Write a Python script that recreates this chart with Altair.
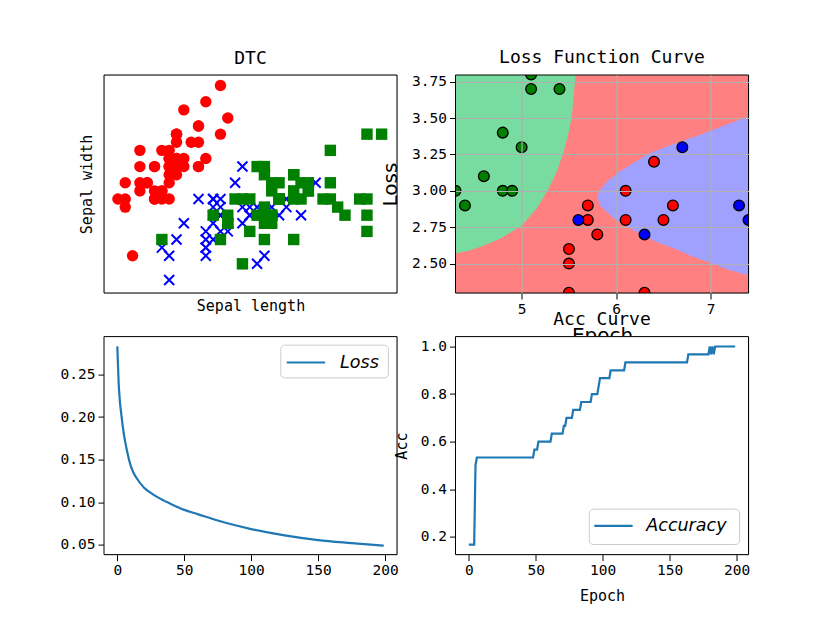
import altair as alt
import pandas as pd

MONO = "DejaVu Sans Mono"
SANS = "DejaVu Sans"
W, H = 293, 218

# ---------------- Panel 1: DTC (iris sepal length / width) ----------------
setosa_len = [5.1,4.9,4.7,4.6,5.0,5.4,4.6,5.0,4.4,4.9,5.4,4.8,4.8,4.3,5.8,5.7,5.4,5.1,5.7,5.1,
              5.4,5.1,4.6,5.1,4.8,5.0,5.0,5.2,5.2,4.7,4.8,5.4,5.2,5.5,4.9,5.0,5.5,4.9,4.4,5.1,
              5.0,4.5,4.4,5.0,5.1,4.8,5.1,4.6,5.3,5.0]
setosa_wid = [3.5,3.0,3.2,3.1,3.6,3.9,3.4,3.4,2.9,3.1,3.7,3.4,3.0,3.0,4.0,4.4,3.9,3.5,3.8,3.8,
              3.4,3.7,3.6,3.3,3.4,3.0,3.4,3.5,3.4,3.2,3.1,3.4,4.1,4.2,3.1,3.2,3.5,3.6,3.0,3.4,
              3.5,2.3,3.2,3.5,3.8,3.0,3.8,3.2,3.7,3.3]
versi_len = [7.0,6.4,6.9,5.5,6.5,5.7,6.3,4.9,6.6,5.2,5.0,5.9,6.0,6.1,5.6,6.7,5.6,5.8,6.2,5.6,
             5.9,6.1,6.3,6.1,6.4,6.6,6.8,6.7,6.0,5.7,5.5,5.5,5.8,6.0,5.4,6.0,6.7,6.3,5.6,5.5,
             5.5,6.1,5.8,5.0,5.6,5.7,5.7,6.2,5.1,5.7]
versi_wid = [3.2,3.2,3.1,2.3,2.8,2.8,3.3,2.4,2.9,2.7,2.0,3.0,2.2,2.9,2.9,3.1,3.0,2.7,2.2,2.5,
             3.2,2.8,2.5,2.8,2.9,3.0,2.8,3.0,2.9,2.6,2.4,2.4,2.7,2.7,3.0,3.4,3.1,2.3,3.0,2.5,
             2.6,3.0,2.6,2.3,2.7,3.0,2.9,2.9,2.5,2.8]
virg_len = [6.3,5.8,7.1,6.3,6.5,7.6,4.9,7.3,6.7,7.2,6.5,6.4,6.8,5.7,5.8,6.4,6.5,7.7,7.7,6.0,
            6.9,5.6,7.7,6.3,6.7,7.2,6.2,6.1,6.4,7.2,7.4,7.9,6.4,6.3,6.1,7.7,6.3,6.4,6.0,6.9,
            6.7,6.9,5.8,6.8,6.7,6.7,6.3,6.5,6.2,5.9]
virg_wid = [3.3,2.7,3.0,2.9,3.0,3.0,2.5,2.9,2.5,3.6,3.2,2.7,3.0,2.5,2.8,3.2,3.0,3.8,2.6,2.2,
            3.2,2.8,2.8,2.7,3.3,3.2,2.8,3.0,2.8,3.0,2.8,3.8,2.8,2.8,2.6,3.0,3.4,3.1,3.0,3.1,
            3.1,3.1,2.7,3.2,3.3,3.0,2.5,3.0,3.4,3.0]
TL_XDOM = [4.11, 8.11]
TL_YDOM = [1.84, 4.53]

# ---------------- Panel 2: decision regions + test points ----------------
TR_XDOM = [4.3, 7.4]
TR_YDOM = [2.298, 3.796]
green_bnd_y = [2.57, 2.59, 2.62, 2.67, 2.76, 2.88, 3.01, 3.13, 3.26, 3.38, 3.51, 3.65, 3.796]
green_bnd_x = [4.30, 4.45, 4.58, 4.77, 5.00, 5.16, 5.28, 5.37, 5.44, 5.49, 5.53, 5.55, 5.57]
blue_bnd_y = [2.42, 2.46, 2.51, 2.55, 2.60, 2.65, 2.71, 2.76, 2.81, 2.855, 2.90, 2.96,
              3.01, 3.06, 3.13, 3.19, 3.26, 3.32, 3.38, 3.45, 3.51]
blue_bnd_x = [7.40, 7.18, 6.98, 6.80, 6.63, 6.42, 6.24, 6.10, 5.98, 5.90, 5.83, 5.80,
              5.83, 5.90, 6.03, 6.18, 6.36, 6.60, 6.87, 7.15, 7.40]
pts_green_x = [5.1, 5.1, 5.4, 4.8, 5.0, 4.6, 4.3, 4.8, 4.9, 4.4]
pts_green_y = [3.8, 3.7, 3.7, 3.4, 3.3, 3.1, 3.0, 3.0, 3.0, 2.9]
pts_red_x = [5.7, 5.7, 5.8, 5.5, 5.5, 5.5, 6.4, 6.1, 6.6, 6.1, 6.5, 6.3]
pts_red_y = [2.9, 2.8, 2.7, 2.6, 2.5, 2.3, 3.2, 3.0, 2.9, 2.8, 2.8, 2.3]
pts_blue_x = [5.6, 6.7, 6.3, 7.3, 7.4]
pts_blue_y = [2.8, 3.3, 2.7, 2.9, 2.8]

# ---------------- Panel 3: loss curve ----------------
loss_epoch = [0, 1, 2, 3, 4, 5, 6, 8, 10, 12, 15, 20, 25, 30, 40, 50, 60, 75, 100, 125, 150, 175, 199]
loss_value = [0.283, 0.240, 0.217, 0.203, 0.190, 0.179, 0.170, 0.155, 0.143, 0.135, 0.127, 0.117,
              0.111, 0.106, 0.098, 0.091, 0.086, 0.0785, 0.0685, 0.061, 0.0555, 0.052, 0.049]

# ---------------- Panel 4: accuracy curve ----------------
acc_epoch = [0, 4, 5, 6, 48, 49, 51, 52, 61, 62, 70, 71, 72, 73, 77, 78, 83, 84, 91, 92, 96, 97,
             98, 105, 106, 116, 117, 163, 164, 179, 180, 181, 182, 183, 184, 199]
acc_value = [0.1667, 0.1667, 0.5, 0.5333, 0.5333, 0.5667, 0.5667, 0.6, 0.6, 0.6333, 0.6333,
             0.6667, 0.6667, 0.7, 0.7, 0.7333, 0.7333, 0.7667, 0.7667, 0.8, 0.8, 0.8333,
             0.8667, 0.8667, 0.9, 0.9, 0.9333, 0.9333, 0.9667, 0.9667, 1.0, 0.9667, 1.0,
             0.9667, 1.0, 1.0]
EPOCH_DOM = [-9.95, 208.95]
LOSS_DOM = [0.0385, 0.2945]
ACC_DOM = [0.125, 1.0417]

LINE_COLOR = "#1f77b4"


def ax(**kw):
    base = dict(domain=False, tickColor="black", tickSize=6, tickWidth=1, labelFont=MONO,
                labelFontSize=14.5, labelColor="black", labelPadding=3, grid=False,
                titleColor="black", titleFontWeight="normal", title="")
    base.update(kw)
    return alt.Axis(**base)


def title(text):
    return alt.TitleParams(text, font=MONO, fontSize=18, fontWeight="normal", color="black",
                           offset=-7, baseline="alphabetic", frame="group", anchor="middle")


one = pd.DataFrame({"k": [0]})


def frame():
    return alt.Chart(one).mark_rect(fillOpacity=0, stroke="black", strokeWidth=1).encode(
        x=alt.value(0), x2=alt.value(W), y=alt.value(0), y2=alt.value(H))


def panel_bg():
    return alt.Chart(one).mark_rect(fill="white", opacity=1).encode(
        x=alt.value(0), x2=alt.value(W), y=alt.value(0), y2=alt.value(H))


def legend(x0, x1, y0, y1, lx0, lx1, ly, tx, label):
    box = alt.Chart(one).mark_rect(fill="white", fillOpacity=0.8, stroke="#cccccc",
                                   strokeWidth=1, cornerRadius=4).encode(
        x=alt.value(x0), x2=alt.value(x1), y=alt.value(y0), y2=alt.value(y1))
    ln = alt.Chart(one).mark_rule(color=LINE_COLOR, strokeWidth=2.2).encode(
        x=alt.value(lx0), x2=alt.value(lx1), y=alt.value(ly))
    tx_ = alt.Chart(one).mark_text(text=label, font=SANS, fontStyle="italic", fontSize=17.5,
                                   align="left", baseline="middle", color="black").encode(
        x=alt.value(tx), y=alt.value(ly + 0.5))
    return [box, ln, tx_]


# ----- top-left -----
tl_x = alt.X("x:Q", scale=alt.Scale(domain=TL_XDOM, nice=False, zero=False),
             axis=ax(labels=False, ticks=False, title="Sepal length", titleFont=MONO,
                     titleFontSize=15, titleX=W / 2, titleY=17, titleBaseline="alphabetic",
                     titleAlign="center"))
tl_y = alt.Y("y:Q", scale=alt.Scale(domain=TL_YDOM, nice=False, zero=False),
             axis=ax(labels=False, ticks=False, title="Sepal width", titleFont=MONO,
                     titleFontSize=15, titleAngle=270, titleX=-13, titleY=H / 2,
                     titleBaseline="alphabetic", titleAlign="center"))
df_set = pd.DataFrame({"x": setosa_len, "y": setosa_wid})
df_ver = pd.DataFrame({"x": versi_len, "y": versi_wid})
df_vir = pd.DataFrame({"x": virg_len, "y": virg_wid})
circles = alt.Chart(df_set).mark_circle(size=130, color="#ff0000", opacity=1).encode(x=tl_x, y=tl_y)
crosses = alt.Chart(df_ver).mark_point(shape="M-1,-1L1,1M1,-1L-1,1", size=100, filled=False,
                                       color="#0000ff", strokeWidth=2, opacity=1).encode(x=tl_x, y=tl_y)
squares = alt.Chart(df_vir).mark_square(size=130, color="#008000", opacity=1).encode(x=tl_x, y=tl_y)
tl = alt.layer(circles, crosses, squares, frame()).properties(width=W, height=H, title=title("DTC"))

# ----- top-right -----
grid_kw = dict(grid=True, gridColor="#b0b0b0", gridWidth=1.2, zindex=1)
tr_x = alt.X("x:Q", scale=alt.Scale(domain=TR_XDOM, nice=False, zero=False),
             axis=ax(values=[5, 6, 7], format="d", title="Epoch", titleFont=SANS, titleFontSize=20,
                     titleX=W / 2, titleY=48, titleBaseline="alphabetic", titleAlign="center",
                     **grid_kw))
tr_y = alt.Y("y:Q", scale=alt.Scale(domain=TR_YDOM, nice=False, zero=False),
             axis=ax(values=[2.5, 2.75, 3.0, 3.25, 3.5, 3.75], format=".2f", title="Loss",
                     titleFont=SANS, titleFontSize=20, titleAngle=270, titleX=-65, titleY=H / 2,
                     titleBaseline="middle", titleAlign="center", **grid_kw))
df_bg = pd.DataFrame({"x": [TR_XDOM[0]], "x2": [TR_XDOM[1]], "y": [TR_YDOM[0]], "y2": [TR_YDOM[1]]})
bg = alt.Chart(df_bg).mark_rect(color="#ff8080", opacity=1).encode(x=tr_x, x2="x2:Q", y=tr_y, y2="y2:Q")
df_g = pd.DataFrame({"y": green_bnd_y, "x": [TR_XDOM[0]] * len(green_bnd_y), "x2": green_bnd_x})
green = alt.Chart(df_g).mark_area(orient="horizontal", color="#78dca0", opacity=1, clip=True).encode(
    y=tr_y, x=tr_x, x2="x2:Q")
df_b = pd.DataFrame({"y": blue_bnd_y, "x": blue_bnd_x, "x2": [TR_XDOM[1]] * len(blue_bnd_y)})
blue = alt.Chart(df_b).mark_area(orient="horizontal", color="#a0a0ff", opacity=1, clip=True).encode(
    y=tr_y, x=tr_x, x2="x2:Q")
df_p = pd.DataFrame({
    "x": pts_green_x + pts_red_x + pts_blue_x,
    "y": pts_green_y + pts_red_y + pts_blue_y,
    "c": ["g"] * len(pts_green_x) + ["r"] * len(pts_red_x) + ["b"] * len(pts_blue_x),
})
pts = alt.Chart(df_p).mark_circle(size=115, stroke="black", strokeWidth=1.3, opacity=1, clip=True).encode(
    x=tr_x, y=tr_y,
    color=alt.Color("c:N", scale=alt.Scale(domain=["g", "r", "b"], range=["#008000", "#ff0000", "#0000ff"]),
                    legend=None))
tr = alt.layer(bg, green, blue, pts, frame()).properties(width=W, height=H,
                                                         title=title("Loss Function Curve"))

# ----- bottom-left -----
ep_x = alt.X("x:Q", scale=alt.Scale(domain=EPOCH_DOM, nice=False, zero=False),
             axis=ax(values=[0, 50, 100, 150, 200], format="d"))
bl_y = alt.Y("y:Q", scale=alt.Scale(domain=LOSS_DOM, nice=False, zero=False),
             axis=ax(values=[0.05, 0.10, 0.15, 0.20, 0.25], format=".2f"))
df_loss = pd.DataFrame({"x": loss_epoch, "y": loss_value})
loss_line = alt.Chart(df_loss).mark_line(color=LINE_COLOR, strokeWidth=2.2, interpolate="monotone").encode(
    x=ep_x, y=bl_y)
bl = alt.layer(panel_bg(), loss_line,
               *legend(176.8, 284.4, 8.6, 41.3, 182.8, 221.1, 25.9, 236.1, "Loss"),
               frame()).properties(width=W, height=H)

# ----- bottom-right -----
br_x = alt.X("x:Q", scale=alt.Scale(domain=EPOCH_DOM, nice=False, zero=False),
             axis=ax(values=[0, 50, 100, 150, 200], format="d", title="Epoch", titleFont=MONO,
                     titleFontSize=15, titleX=W / 2, titleY=46, titleBaseline="alphabetic",
                     titleAlign="center"))
br_y = alt.Y("y:Q", scale=alt.Scale(domain=ACC_DOM, nice=False, zero=False),
             axis=ax(values=[0.2, 0.4, 0.6, 0.8, 1.0], format=".1f", title="Acc", titleFont=MONO,
                     titleFontSize=15, titleAngle=270, titleX=-54, titleY=H / 2,
                     titleBaseline="middle", titleAlign="center"))
df_acc = pd.DataFrame({"x": acc_epoch, "y": acc_value})
acc_line = alt.Chart(df_acc).mark_line(color=LINE_COLOR, strokeWidth=2.2).encode(x=br_x, y=br_y)
br = alt.layer(panel_bg(), acc_line,
               *legend(133.8, 284.1, 172.6, 207.9, 138.8, 177.1, 189.3, 190.8, "Accuracy"),
               frame()).properties(width=W, height=H, title=title("Acc Curve"))

chart = alt.ConcatChart(concat=[tl, tr, bl, br], columns=2,
                        spacing={"row": 43.6, "column": 58.5}, bounds="flush").properties(
    padding={"left": 51, "top": 40, "right": 10, "bottom": 10}
).configure_view(fill="white", stroke="transparent").configure(background="white")

chart.save("out.html", embed_options={"renderer": "svg", "actions": False})
